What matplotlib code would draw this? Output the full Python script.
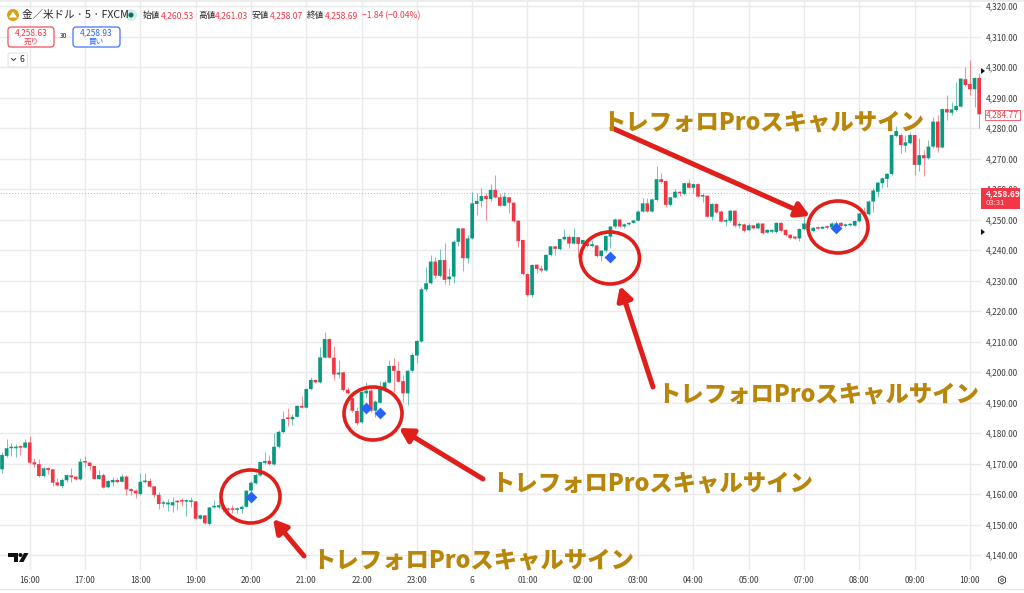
import matplotlib
matplotlib.use("Agg")
import matplotlib.pyplot as plt
from matplotlib.patches import Ellipse, FancyBboxPatch, Polygon, Circle, Rectangle, FancyArrowPatch, RegularPolygon

plt.rcParams['font.family'] = ['Noto Sans CJK JP', 'DejaVu Sans']

first_index = -6
opens = [4168.1,4172.5,4175.0,4175.0,4175.5,4175.2,4176.9,4170.4,4169.8,4165.9,4168.5,4168.1,4163.8,4162.6,4164.5,4166.1,4165.7,4164.8,4170.6,4170.3,4169.2,4164.9,4166.2,4162.2,4163.8,4164.6,4164.0,4165.7,4161.6,4161.1,4160.0,4163.9,4164.3,4162.5,4159.7,4156.8,4156.6,4156.3,4157.7,4157.9,4157.5,4157.4,4157.6,4151.9,4153.0,4150.2,4155.6,4155.6,4155.3,4155.1,4155.2,4154.8,4155.1,4155.8,4161.1,4163.5,
 4166.1,4170.2,4170.9,4169.7,4175.5,4180.3,4185.0,4184.5,4185.3,4188.9,4188.3,4194.4,4197.4,4196.6,4204.7,4210.8,4204.7,4199.2,4199.9,4194.2,4191.4,4187.2,4183.5,4193.0,4193.9,4187.3,4189.9,4194.6,4196.5,4202.0,4200.4,4197.0,4193.0,4200.4,4205.4,
 4210.0,4227.1,4229.1,4236.2,4231.5,4236.7,4230.4,4231.3,4242.7,4247.1,4237.3,4243.8,4255.1,4256.1,4257.7,4256.7,4259.7,4257.3,4254.5,4257.3,4255.5,4249.6,4243.3,4232.1,4225.2,4235.2,4233.9,4233.3,4238.4,4241.2,4240.3,4243.5,4244.3,4242.1,4244.2,4242.0,4242.2,4241.3,4241.5,4238.0,4239.8,4244.4,4247.7,4250.0,4247.7,4248.4,4248.9,4249.6,4252.6,4255.3,4252.6,4256.4,4263.2,4262.6,4254.8,4257.2,4259.1,4258.4,4261.9,4260.4,4261.6,4257.5,4257.8,4250.9,4255.1,4252.6,4249.3,4249.6,4252.9,4248.0,4248.4,4246.5,4248.1,4247.1,4248.7,4245.7,4246.0,4245.9,4248.9,4246.6,4245.0,4244.4,4243.8,4246.8,4248.2,4246.2,4247.3,4247.0,4247.6,4247.4,4247.6,4248.9,4247.9,4248.1,4248.0,4249.4,4252.3,
 4251.7,4255.9,4259.1,4261.9,4263.3,4264.9,4277.4,4277.7,4274.2,4275.0,4277.7,4267.9,4271.1,4270.1,4273.9,4282.1,4273.6,4286.2,4285.0,4285.9,4287.0,4296.0,4294.4,4292.7,4296.4]
highs = [4173.9,4177.9,4176.6,4176.4,4176.1,4177.9,4179.1,4171.7,4171.4,4168.7,4169.0,4168.1,4165.1,4165.1,4166.4,4168.4,4166.0,4171.7,4172.5,4170.6,4169.3,4167.9,4166.8,4164.6,4165.5,4165.1,4166.6,4166.2,4161.9,4161.5,4166.8,4166.8,4165.1,4162.6,4160.8,4158.0,4158.2,4158.9,4158.0,4158.6,4158.2,4158.9,4157.6,4153.4,4153.1,4155.8,4158.0,4158.0,4156.4,4155.6,4156.4,4155.8,4156.4,4161.3,4164.3,
 4166.8,4170.6,4173.9,4172.8,4180.1,4181.0,4187.3,4188.1,4186.2,4189.2,4192.1,4194.6,4198.3,4197.6,4208.3,4213.2,4211.0,4208.5,4203.9,4200.1,4195.2,4192.8,4188.4,4193.9,4196.6,4194.3,4190.8,4197.2,4197.4,4203.9,4204.5,4203.7,4199.0,4200.7,4206.1,4210.5,
 4228.0,4234.3,4238.4,4237.8,4240.2,4242.2,4234.0,4243.3,4247.1,4247.1,4244.9,4259.1,4258.6,4260.2,4258.6,4261.6,4264.6,4258.6,4259.1,4257.5,4255.6,4249.8,4243.3,4232.3,4235.3,4235.4,4235.1,4238.6,4241.3,4241.4,4243.6,4246.8,4244.9,4247.1,4244.4,4243.3,4242.7,4243.3,4241.6,4240.0,4244.9,4247.9,4250.4,4250.3,4248.7,4249.2,4250.0,4253.1,4256.9,4257.2,4256.9,4267.5,4265.1,4262.9,4257.5,4259.9,4259.5,4262.1,4263.2,4261.9,4261.9,4258.6,4258.0,4255.3,4255.3,4253.1,4250.4,4253.1,4253.1,4249.1,4248.7,4248.7,4248.3,4249.2,4248.9,4246.8,4246.8,4249.2,4249.2,4246.8,4245.2,4244.6,4247.1,4250.9,4249.0,4247.6,4247.9,4247.9,4248.2,4249.3,4249.6,4249.3,4248.7,4248.7,4249.8,4252.2,4254.2,
 4256.4,4260.2,4262.4,4264.0,4265.4,4277.9,4280.5,4278.2,4277.7,4278.8,4277.7,4276.6,4272.8,4276.1,4283.7,4284.3,4286.5,4290.8,4288.6,4295.2,4296.4,4300.1,4302.3,4296.6,4298.1]
lows = [4166.8,4172.2,4172.5,4172.2,4172.8,4175.0,4170.0,4169.0,4165.7,4165.7,4166.4,4162.7,4162.6,4161.9,4164.0,4164.0,4164.6,4164.6,4169.0,4167.9,4164.8,4164.8,4161.9,4161.9,4162.6,4163.5,4163.8,4159.7,4159.7,4158.8,4159.7,4163.7,4162.2,4159.1,4155.0,4155.6,4154.4,4154.2,4154.7,4156.1,4152.8,4155.8,4151.7,4151.7,4150.2,4149.8,4155.3,4155.0,4154.2,4153.7,4153.9,4153.9,4153.7,4155.6,4160.8,
 4163.2,4165.9,4170.0,4169.5,4169.5,4175.0,4179.9,4182.3,4182.6,4185.1,4188.1,4188.1,4194.1,4196.5,4196.5,4204.5,4204.5,4197.4,4197.9,4193.9,4192.8,4187.0,4182.6,4183.4,4191.4,4187.0,4185.3,4189.7,4193.5,4196.3,4193.5,4196.6,4190.3,4189.2,4200.1,4203.1,
 4209.8,4226.7,4228.9,4230.7,4231.3,4228.9,4228.5,4229.3,4241.3,4233.1,4235.6,4243.5,4251.5,4254.2,4249.8,4256.2,4256.9,4254.4,4254.4,4252.2,4249.3,4241.1,4231.8,4225.0,4224.5,4232.3,4232.9,4233.1,4238.0,4238.4,4240.0,4243.3,4240.5,4241.9,4237.8,4240.0,4241.1,4240.9,4237.8,4236.4,4239.4,4240.5,4247.3,4247.4,4247.1,4248.2,4248.7,4249.4,4252.3,4252.3,4252.3,4256.2,4261.9,4254.2,4254.5,4256.9,4257.7,4258.1,4260.2,4258.6,4257.3,4255.6,4250.7,4250.0,4252.0,4249.1,4247.9,4249.3,4247.7,4247.1,4246.0,4246.3,4246.8,4246.8,4245.2,4245.5,4245.5,4245.7,4246.0,4244.6,4243.7,4243.5,4243.1,4246.6,4247.9,4246.0,4246.8,4246.8,4247.0,4247.1,4247.1,4247.6,4247.6,4247.9,4247.8,4249.2,4251.5,
 4251.5,4252.6,4257.5,4260.2,4260.8,4264.7,4277.2,4271.9,4272.2,4274.8,4264.6,4266.0,4264.4,4269.8,4273.3,4272.2,4273.3,4282.6,4284.3,4285.7,4286.8,4293.8,4290.8,4286.8,4279.9]
closes = [4172.8,4175.0,4175.5,4175.5,4175.2,4176.9,4170.3,4169.7,4165.9,4168.4,4167.9,4163.7,4162.8,4164.6,4166.2,4165.5,4164.8,4170.6,4170.3,4169.2,4164.9,4166.2,4162.1,4164.3,4164.6,4163.9,4165.7,4161.5,4161.0,4160.2,4164.0,4164.3,4162.4,4159.7,4156.7,4157.3,4157.2,4157.3,4157.3,4157.5,4157.7,4157.7,4151.9,4153.0,4150.4,4155.6,4156.1,4156.3,4155.0,4154.8,4154.8,4155.3,4155.8,4161.1,4163.7,
 4166.2,4170.5,4170.8,4169.8,4175.5,4180.4,4184.6,4184.6,4185.3,4188.9,4188.3,4194.4,4197.4,4196.6,4204.8,4210.8,4204.7,4199.2,4199.8,4194.1,4193.0,4187.3,4183.2,4193.5,4193.9,4187.3,4190.3,4194.6,4196.6,4202.0,4200.4,4196.8,4193.0,4200.4,4205.6,
 4210.2,4227.1,4229.1,4236.2,4231.6,4236.7,4230.2,4231.3,4242.7,4247.1,4237.3,4243.8,4255.3,4256.1,4257.7,4256.7,4259.7,4257.2,4254.5,4257.5,4255.5,4249.4,4242.9,4232.1,4225.2,4235.1,4233.8,4233.3,4238.4,4241.2,4240.4,4243.6,4244.3,4242.1,4244.3,4242.0,4243.3,4241.3,4241.9,4238.0,4239.8,4244.6,4247.7,4250.0,4247.7,4248.4,4248.9,4249.7,4252.6,4255.3,4252.6,4256.6,4263.2,4262.3,4254.8,4257.3,4259.1,4258.6,4261.9,4260.4,4261.6,4257.5,4257.8,4250.9,4255.1,4252.3,4249.3,4249.8,4252.9,4248.0,4248.4,4246.3,4248.1,4247.1,4248.7,4245.5,4246.6,4246.6,4248.9,4246.3,4244.9,4243.9,4243.8,4246.9,4248.7,4248.7,4247.3,4247.0,4247.6,4247.3,4248.7,4248.7,4247.9,4248.4,4248.5,4249.5,4252.0,4252.0,
 4255.9,4259.5,4262.1,4263.5,4265.0,4277.7,4279.0,4274.4,4275.3,4277.7,4267.9,4271.1,4270.1,4273.9,4282.1,4273.6,4286.2,4285.1,4286.1,4287.2,4296.2,4294.1,4292.7,4296.4,4284.5]

hour_ticks = list(range(0, 205, 12))
hour_labels = ["16:00","17:00","18:00","19:00","20:00","21:00","22:00","23:00","6",
               "01:00","02:00","03:00","04:00","05:00","07:00","08:00","09:00","10:00"]
price_ticks = list(range(4140, 4321, 10))

signal_idx = [48, 73, 76, 126, 175]
signal_price = [4159.0, 4188.2, 4186.7, 4237.6, 4247.2]

last_price = 4258.69
mark_price = 4284.77

UP = "#089981"; DOWN = "#F23645"; RED = "#E01E1A"; GOLD = "#B8860B"; BLUE = "#2962FF"
W, H = 1024, 593
fig = plt.figure(figsize=(W/100, H/100), dpi=100, facecolor="white")

px0, px1, py0, py1 = 0, 981, 0, 570
ax = fig.add_axes([px0/W, 1-py1/H, (px1-px0)/W, (py1-py0)/H])
x_of = lambda px: (px-29.7)/4.609
p_of = lambda py: 4320-(py-6)/3.05
ax.set_xlim(x_of(px0), x_of(px1))
ax.set_ylim(p_of(py1), p_of(py0))
ax.set_xticks(hour_ticks); ax.set_xticklabels(hour_labels)
ax.set_yticks(price_ticks); ax.set_yticklabels([f"{v:,.2f}" for v in price_ticks])
ax.yaxis.tick_right()
ax.tick_params(length=0, labelsize=6.0, colors="#3C3C3C")
ax.tick_params(axis="x", pad=4.5)
ax.tick_params(axis="y", pad=3.5)
ax.grid(True, color="#EAEAEA", lw=1.0)
ax.set_axisbelow(True)
for s in ax.spines.values():
    s.set_visible(False)

idx = list(range(first_index, first_index+len(opens)))
cols = [UP if c >= o else DOWN for o, c in zip(opens, closes)]
ax.vlines(idx, lows, highs, colors=cols, lw=0.75, alpha=0.55, zorder=2)
bars = ax.bar(idx, [max(abs(c-o), 0.5) for o, c in zip(opens, closes)],
              bottom=[min(o, c) for o, c in zip(opens, closes)],
              width=0.8, color=cols, lw=0, zorder=3)
for b in bars:
    b.set_snap(False)
ax.axhline(last_price, color=DOWN, lw=0.7, ls=(0, (1, 2)), alpha=0.5, zorder=1)
ax.scatter(signal_idx, signal_price, marker="D", s=36, color=BLUE, lw=0, zorder=4)

ov = fig.add_axes([0, 0, 1, 1]); ov.set_xlim(0, W); ov.set_ylim(H, 0); ov.axis("off")
ov.add_patch(Rectangle((0, 0), W, 2, color="#EDEDED", lw=0))
ov.plot([0, W], [589, 589], color="#E8E8E8", lw=0.8)

for cx, cy, w, h in [(250.5,496.5,59,53),(373,413.5,58,53),(610,258,59,52),(838,227,60,52)]:
    ov.add_patch(Ellipse((cx, cy), w, h, fill=False, ec=RED, lw=2.6, zorder=6))
for a, b in [((612,128),(810,216)),((653,387),(620,286)),((483,479),(399,428)),((304,556),(273,519))]:
    ov.add_patch(FancyArrowPatch(a, b, arrowstyle="-|>,head_length=8,head_width=4.5", mutation_scale=1.0,
                                 color=RED, lw=3.6, capstyle="round", shrinkA=0, shrinkB=0, zorder=6))
for tx, ty in [(602,122.5),(657,394.5),(491,483.5),(312,560.5)]:
    ov.text(tx, ty, "トレフォロProスキャルサイン", color=GOLD, fontsize=16.8, fontweight=900,
            va="center", ha="left", zorder=7)

ov.add_patch(Circle((13,15), 6, color="#D9A21B", lw=0))
ov.add_patch(Polygon([[9,17.5],[13,11.5],[17,17.5]], color="white", lw=0))
ov.text(22, 15, "金／米ドル · 5 · FXCM", fontsize=7.6, color="#222222", va="center")
ov.add_patch(Circle((131,15), 6, color="#D5EEE9", lw=0))
ov.add_patch(Circle((131,15), 2.5, color="#05705E", lw=0))
for xl, lab, xv, val in [(143,"始値",161,"4,260.53"),(198,"高値",215,"4,261.03"),
                         (252,"安値",270,"4,258.07"),(307,"終値",325,"4,258.69")]:
    ov.text(xl, 15.5, lab, fontsize=6.2, color="#222222", va="center")
    ov.text(xv, 15.5, val, fontsize=6.2, color=DOWN, va="center")
ov.text(362, 15.5, "−1.84 (−0.04%)", fontsize=6.2, color=DOWN, va="center")

ov.add_patch(FancyBboxPatch((8,27),46,20,boxstyle="round,pad=0,rounding_size=3",fc="white",ec=DOWN,lw=0.8))
ov.text(31,32.5,"4,258.63",fontsize=6,color=DOWN,ha="center",va="center")
ov.text(31,41.5,"売り",fontsize=5.5,color=DOWN,ha="center",va="center")
ov.text(64,36.5,"30",fontsize=4.8,color="#222222",ha="center",va="center")
ov.add_patch(FancyBboxPatch((73,27),47,20,boxstyle="round,pad=0,rounding_size=3",fc="white",ec=BLUE,lw=0.8))
ov.text(96.5,32.5,"4,258.93",fontsize=6,color=BLUE,ha="center",va="center")
ov.text(96.5,41.5,"買い",fontsize=5.5,color=BLUE,ha="center",va="center")
ov.add_patch(FancyBboxPatch((8,53),19.5,14,boxstyle="round,pad=0,rounding_size=2",fc="white",ec="#E0E0E0",lw=0.7))
ov.plot([11.5,13.5,15.5],[58.5,60.5,58.5],color="#333333",lw=0.7)
ov.text(22,60,"6",fontsize=6,color="#222222",ha="center",va="center")

ov.add_patch(Polygon([[8,553],[18,553],[18,562],[14,562],[14,557],[8,557]],color="#111111",lw=0))
ov.add_patch(Circle((20.5,555),2,color="#111111",lw=0))
ov.add_patch(Polygon([[24,553],[28.5,553],[23.5,562],[19,562]],color="#111111",lw=0))

ov.add_patch(Rectangle((981,188),39,21,fc=DOWN,ec="none"))
ov.text(986,193.5,"4,258.69",fontsize=6,color="white",ha="left",va="center",fontweight="bold")
ov.text(986,203,"03:31",fontsize=5.6,color="#FFD5DA",ha="left",va="center")
ov.add_patch(Rectangle((985,109.5),35,10,fc="white",ec=DOWN,lw=0.6,alpha=0.9))
ov.text(1002.5,114.5,f"{mark_price:,.2f}",fontsize=6,color=DOWN,ha="center",va="center")
for ty in (71, 232):
    ov.add_patch(Polygon([[981,ty-3],[985,ty],[981,ty+3]],color="#111111",lw=0))
ov.add_patch(RegularPolygon((1002,580),6,radius=4,fill=False,ec="#444444",lw=0.7))
ov.add_patch(Circle((1002,580),1.3,fill=False,ec="#444444",lw=0.6))

fig.savefig("out.png", dpi=100)
